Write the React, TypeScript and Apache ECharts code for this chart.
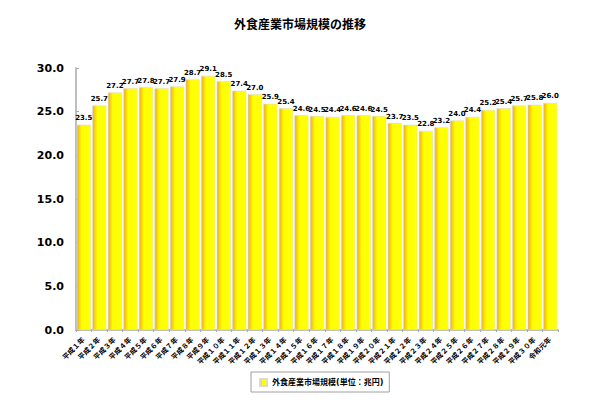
import React, { useEffect, useRef } from "react";
import * as echarts from "echarts";

const title = "外食産業市場規模の推移";
const seriesName = "外食産業市場規模(単位：兆円)";
const categories = [
  "平成１年", "平成２年", "平成３年", "平成４年", "平成５年", "平成６年", "平成７年", "平成８年",
  "平成９年", "平成１０年", "平成１１年", "平成１２年", "平成１３年", "平成１４年", "平成１５年",
  "平成１６年", "平成１７年", "平成１８年", "平成１９年", "平成２０年", "平成２１年", "平成２２年",
  "平成２３年", "平成２４年", "平成２５年", "平成２６年", "平成２７年", "平成２８年", "平成２９年",
  "平成３０年", "令和元年",
];
const values = [
  23.5, 25.7, 27.2, 27.7, 27.8, 27.7, 27.9, 28.7, 29.1, 28.5, 27.4, 27.0, 25.9, 25.4, 24.6,
  24.5, 24.4, 24.6, 24.6, 24.5, 23.7, 23.5, 22.8, 23.2, 24.0, 24.4, 25.2, 25.4, 25.7, 25.8, 26.0,
];
const yMin = 0;
const yMax = 30;
const yInterval = 5;

const FONT = "'DejaVu Sans', 'Noto Sans CJK JP', sans-serif";

export default function App() {
  const ref = useRef<HTMLDivElement>(null);
  useEffect(() => {
    if (!ref.current) return;
    const chart = echarts.init(ref.current, null, { renderer: "svg" });
    chart.setOption({
      animation: false,
      backgroundColor: "#ffffff",
      title: {
        text: title,
        left: "center",
        top: 14,
        textStyle: { fontFamily: FONT, fontSize: 12, fontWeight: "bold", color: "#000" },
      },
      grid: { left: 76, right: 42, top: 68, bottom: 75, containLabel: false },
      legend: {
        data: [seriesName],
        top: 372,
        left: 251,
        icon: "rect",
        itemWidth: 7,
        itemHeight: 7,
        itemGap: 4,
        padding: [6, 6, 5, 8],
        borderColor: "#a0a0a0",
        borderWidth: 1,
        textStyle: { fontFamily: FONT, fontSize: 8, fontWeight: "bold", color: "#000" },
      },
      xAxis: {
        type: "category",
        data: categories,
        axisLine: { lineStyle: { color: "#a8a8a8", width: 1.5 } },
        axisTick: { show: true, inside: false, length: 2, lineStyle: { color: "#a8a8a8" } },
        axisLabel: {
          rotate: 45,
          interval: 0,
          fontFamily: FONT,
          fontSize: 7,
          fontWeight: "bold",
          color: "#000",
          margin: 9,
        },
      },
      yAxis: {
        type: "value",
        min: yMin,
        max: yMax,
        interval: yInterval,
        splitLine: { show: false },
        axisLine: { show: true, lineStyle: { color: "#a8a8a8", width: 1.5 } },
        axisTick: { show: true, inside: true, length: 3, lineStyle: { color: "#a8a8a8" } },
        axisLabel: {
          fontFamily: FONT,
          fontSize: 11,
          fontWeight: "bold",
          color: "#000",
          margin: 12,
          formatter: (v: number) => v.toFixed(1),
        },
      },
      series: [
        {
          name: seriesName,
          type: "bar",
          data: values,
          barCategoryGap: "10%",
          itemStyle: {
            color: new echarts.graphic.LinearGradient(0, 0, 1, 0, [
              { offset: 0, color: "#f2b000" },
              { offset: 0.35, color: "#ffff00" },
              { offset: 1, color: "#ffff10" },
            ]),
            borderColor: "#dcdcc8",
            borderWidth: 0.6,
          },
          label: {
            show: true,
            position: "top",
            distance: 3,
            fontFamily: FONT,
            fontSize: 7,
            fontWeight: "bold",
            color: "#000",
            formatter: (p: any) => Number(p.value).toFixed(1),
          },
        },
      ],
    });
    return () => chart.dispose();
  }, []);
  return (
    <div
      ref={ref}
      style={{ position: "fixed", left: 0, top: 0, width: 600, height: 405 }}
    />
  );
}
